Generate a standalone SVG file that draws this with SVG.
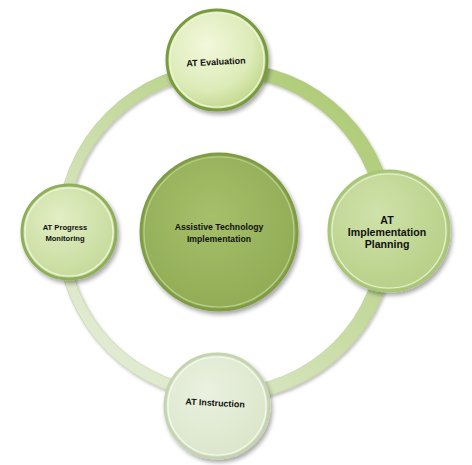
<svg xmlns="http://www.w3.org/2000/svg" width="472" height="465" viewBox="0 0 472 465">
<defs>
<linearGradient id="ringGrad" x1="0.85" y1="0.1" x2="0.15" y2="0.9">
<stop offset="0" stop-color="#afcb76"/>
<stop offset="0.5" stop-color="#c9dca5"/>
<stop offset="1" stop-color="#e3ecd5"/>
</linearGradient>
<radialGradient id="gTop" cx="0.4" cy="0.35" r="0.65">
<stop offset="0" stop-color="#f2f8dc"/>
<stop offset="0.7" stop-color="#dcebb8"/>
<stop offset="1" stop-color="#c3d98f"/>
</radialGradient>
<radialGradient id="gRight" cx="0.4" cy="0.35" r="0.65">
<stop offset="0" stop-color="#cfe2aa"/>
<stop offset="1" stop-color="#b8d088"/>
</radialGradient>
<radialGradient id="gLeft" cx="0.4" cy="0.35" r="0.65">
<stop offset="0" stop-color="#e2eec4"/>
<stop offset="1" stop-color="#c6db9c"/>
</radialGradient>
<radialGradient id="gBottom" cx="0.4" cy="0.35" r="0.65">
<stop offset="0" stop-color="#eaf1e0"/>
<stop offset="1" stop-color="#dbe6cb"/>
</radialGradient>
<radialGradient id="gCenter" cx="0.45" cy="0.4" r="0.65">
<stop offset="0" stop-color="#a6bf6b"/>
<stop offset="1" stop-color="#8fab53"/>
</radialGradient>
<filter id="shadow" x="-20%" y="-20%" width="145%" height="145%">
<feDropShadow dx="2" dy="3" stdDeviation="2" flood-color="#000" flood-opacity="0.35"/>
</filter>
<filter id="ringShadow" x="-10%" y="-10%" width="125%" height="125%">
<feDropShadow dx="1.5" dy="2" stdDeviation="1.5" flood-color="#000" flood-opacity="0.25"/>
</filter>
</defs>
<style>
text{font-family:"Liberation Sans",Arial,sans-serif;font-weight:bold;fill:#111;text-anchor:middle}
.rim{fill:none;stroke-width:1.2}
</style>
<g id="connectors">
<path fill-rule="evenodd" fill="url(#ringGrad)" stroke="#a3bd73" stroke-width="0.6" stroke-opacity="0.6" filter="url(#ringShadow)" d="M57,232 a169,169 0 1,0 338,0 a169,169 0 1,0 -338,0 Z M67.5,232 a156,156 0 1,1 312,0 a156,156 0 1,1 -312,0 Z"/>
</g>
<g id="node-center">
<circle cx="219" cy="232" r="78" fill="url(#gCenter)" stroke="#7f9c45" stroke-width="3" filter="url(#shadow)"/>
<circle class="rim" cx="219" cy="232" r="75" stroke="#b9cf8c"/>
<text x="219" y="230" font-size="8.7">Assistive Technology</text>
<text x="219" y="242" font-size="8.7">Implementation</text>
</g>
<g id="node-top">
<circle cx="217" cy="60" r="50" fill="url(#gTop)" stroke="#789a3f" stroke-width="3" filter="url(#shadow)"/>
<circle class="rim" cx="217" cy="60" r="47" stroke="#eef5d8"/>
<text x="216" y="65" font-size="9" transform="rotate(-3 216 62)">AT Evaluation</text>
</g>
<g id="node-right">
<circle cx="389" cy="231" r="60" fill="url(#gRight)" stroke="#a9c578" stroke-width="3" filter="url(#shadow)"/>
<circle class="rim" cx="389" cy="231" r="57" stroke="#e6f0d2"/>
<text x="387" y="224" font-size="10.6">AT</text>
<text x="387" y="236" font-size="10.6">Implementation</text>
<text x="387" y="248" font-size="10.6">Planning</text>
</g>
<g id="node-left">
<circle cx="69" cy="232" r="47" fill="url(#gLeft)" stroke="#8fae59" stroke-width="3" filter="url(#shadow)"/>
<circle class="rim" cx="69" cy="232" r="44" stroke="#eef5dc"/>
<text x="65" y="230" font-size="7.6">AT Progress</text>
<text x="65" y="241" font-size="7.6">Monitoring</text>
</g>
<g id="node-bottom">
<circle cx="217" cy="406" r="52" fill="url(#gBottom)" stroke="#c5d3b0" stroke-width="3" filter="url(#shadow)"/>
<circle class="rim" cx="217" cy="406" r="49" stroke="#f6f9f0"/>
<text x="215" y="406" font-size="8.9" transform="rotate(3 215 403)">AT Instruction</text>
</g>
</svg>
